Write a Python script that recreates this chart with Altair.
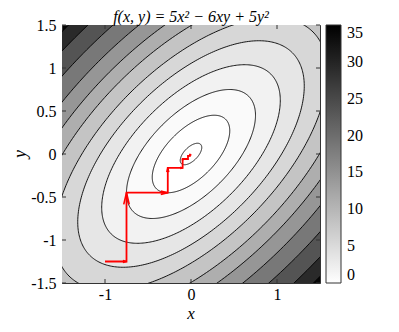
import numpy as np
import pandas as pd
import altair as alt

# ---------------- data ----------------
title_text = "f(x, y) = 5x² − 6xy + 5y²"
x_title = "x"
y_title = "y"
x_ticks = [-1, 0, 1]
y_ticks = [-1.5, -1, -0.5, 0, 0.5, 1, 1.5]
cbar_ticks = [0, 5, 10, 15, 20, 25, 30, 35]
# contour levels of f
levels = [0.05, 0.65, 1.8, 3.45, 5.55, 8.05, 11.15, 14.45, 18.5, 23.5, 29.2, 34.2]
# coordinate-descent path (red)
path_x = [-1.0, -0.75, -0.75, -0.27, -0.27, -0.0972, -0.0972, -0.035, -0.035, -0.0126, -0.0126, -0.0045, -0.0045]
path_y = [-1.25, -1.25, -0.45, -0.45, -0.162, -0.162, -0.0583, -0.0583, -0.021, -0.021, -0.0076, -0.0076, -0.0027]

W = H = 258
CMAX = 35.0
FONT = "Liberation Serif"


def gray(v):
    g = int(round(255 * (1 - min(max(v / CMAX, 0.0), 1.0))))
    return f"#{g:02x}{g:02x}{g:02x}"


xs = alt.Scale(domain=[-1.5, 1.5], nice=False, zero=False)
ys = alt.Scale(domain=[-1.5, 1.5], nice=False, zero=False)
x_axis = alt.Axis(values=x_ticks, title=None, ticks=False, domain=False, grid=False,
                  labelFont=FONT, labelFontSize=16, labelColor="black", labelPadding=3,
                  labelExpr="datum.value + ''")
y_axis = alt.Axis(values=y_ticks, title=None, ticks=False, domain=False, grid=False,
                  labelFont=FONT, labelFontSize=16, labelColor="black", labelPadding=6,
                  labelExpr="datum.value + ''")


def X(f):
    return alt.X(f, type="quantitative", scale=xs, axis=x_axis)


def Y(f):
    return alt.Y(f, type="quantitative", scale=ys, axis=y_axis)


layers = []
# filled bands: nested ellipses drawn from the largest to the smallest
for k in range(len(levels) - 1, -1, -1):
    L = levels[k]
    th = np.linspace(0, np.pi, 241)
    xm = np.sqrt(5 * L / 16)
    xx = xm * np.cos(th)
    disc = np.sqrt(np.maximum(20 * L - 64 * xx ** 2, 0))
    df = pd.DataFrame({"x": xx, "ylo": (6 * xx - disc) / 10, "yhi": (6 * xx + disc) / 10})
    col = gray(levels[k - 1]) if k > 0 else "#ffffff"
    layers.append(alt.Chart(df).mark_area(clip=True, color=col, opacity=1).encode(
        x=X("x"), y=Y("ylo"), y2=alt.Y2("yhi")))

# contour lines
rows = []
for k, L in enumerate(levels):
    t = np.linspace(0, 2 * np.pi, 361)
    u = np.sqrt(L / 2) * np.cos(t)
    v = np.sqrt(L / 8) * np.sin(t)
    for i in range(len(t)):
        rows.append({"lev": k, "i": i, "x": (u[i] + v[i]) / np.sqrt(2), "y": (u[i] - v[i]) / np.sqrt(2)})
cdf = pd.DataFrame(rows)
layers.append(alt.Chart(cdf).mark_line(clip=True, color="black", strokeWidth=0.9).encode(
    x=X("x"), y=Y("y"), detail="lev:N", order="i:Q"))

# red path
pdf = pd.DataFrame({"x": path_x, "y": path_y, "i": list(range(len(path_x)))})
layers.append(alt.Chart(pdf).mark_line(color="#ff0000", strokeWidth=1.8).encode(
    x=X("x"), y=Y("y"), order="i:Q"))

# arrow heads
hrows = []
for s in range(len(path_x) - 1):
    px, py, qx, qy = path_x[s], path_y[s], path_x[s + 1], path_y[s + 1]
    dx, dy = qx - px, qy - py
    Ls = np.hypot(dx, dy)
    ux, uy = dx / Ls, dy / Ls
    nx, ny = -uy, ux
    h, w = 0.17 * Ls, 0.04 * Ls
    pts = [(qx - h * ux + w * nx, qy - h * uy + w * ny), (qx, qy), (qx - h * ux - w * nx, qy - h * uy - w * ny)]
    for j, (a, b) in enumerate(pts):
        hrows.append({"seg": s, "j": j, "x": a, "y": b})
hdf = pd.DataFrame(hrows)
layers.append(alt.Chart(hdf).mark_line(color="#ff0000", strokeWidth=1.6).encode(
    x=X("x"), y=Y("y"), detail="seg:N", order="j:Q"))

# inward tick marks on all four sides
txdf = pd.DataFrame({"x": x_ticks})
tydf = pd.DataFrame({"y": y_ticks})
tk = dict(color="#333333", strokeWidth=1)
layers.append(alt.Chart(txdf).mark_rule(**tk).encode(x=X("x"), y=alt.value(0), y2=alt.value(4)))
layers.append(alt.Chart(txdf).mark_rule(**tk).encode(x=X("x"), y=alt.value(H - 4), y2=alt.value(H)))
layers.append(alt.Chart(tydf).mark_rule(**tk).encode(y=Y("y"), x=alt.value(0), x2=alt.value(4)))
layers.append(alt.Chart(tydf).mark_rule(**tk).encode(y=Y("y"), x=alt.value(W - 4), x2=alt.value(W)))

# titles as text marks
tfont = dict(font=FONT, fontStyle="italic", color="black", align="center")
layers.append(alt.Chart(pd.DataFrame({"t": [title_text]})).mark_text(fontSize=16, baseline="middle", **tfont).encode(
    text="t:N", x=alt.value(W / 2), y=alt.value(-8)))
layers.append(alt.Chart(pd.DataFrame({"t": [x_title]})).mark_text(fontSize=17, baseline="alphabetic", **tfont).encode(
    text="t:N", x=alt.value(W / 2), y=alt.value(294)))
layers.append(alt.Chart(pd.DataFrame({"t": [y_title]})).mark_text(fontSize=18, angle=270, baseline="middle", **tfont).encode(
    text="t:N", x=alt.value(-41), y=alt.value(H / 2)))

# colour bar (legend of an invisible layer)
ldf = pd.DataFrame({"v": [0.0, CMAX]})
layers.append(alt.Chart(ldf).mark_point(size=0, opacity=0).encode(
    x=alt.value(0), y=alt.value(0),
    color=alt.Color("v:Q", scale=alt.Scale(domain=[0, CMAX], range=["#ffffff", "#000000"], interpolate="rgb"),
                    legend=alt.Legend(title=None, orient="none", legendX=264, legendY=0,
                                      direction="vertical", gradientLength=H, gradientThickness=15,
                                      gradientStrokeColor="#333333", gradientStrokeWidth=1,
                                      values=cbar_ticks, labelFont=FONT, labelFontSize=16,
                                      labelColor="black", labelOffset=6, labelBaseline="middle",
                                      labelOverlap=False, padding=0))))

chart = alt.layer(*layers).properties(
    width=W, height=H,
    autosize="none",
    padding={"left": 54, "top": 17, "right": 70, "bottom": 41},
).configure_view(fill=gray(levels[-1]), stroke="#333333", strokeWidth=1)

chart.save("out.html", embed_options={"renderer": "svg", "actions": False})
